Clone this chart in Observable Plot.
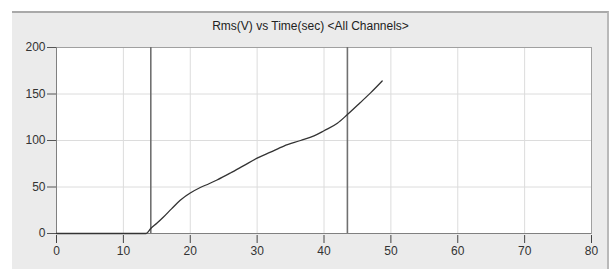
<!DOCTYPE html>
<html>
<head>
<meta charset="utf-8">
<script src="https://cdn.jsdelivr.net/npm/d3@7"></script>
<script src="https://cdn.jsdelivr.net/npm/@observablehq/plot@0.6"></script>
<style>
  html, body { margin: 0; padding: 0; background: #ffffff; }
  #wrap { position: relative; width: 614px; height: 269px; overflow: hidden; }
  #panel { position: absolute; left: 12px; top: 11px; width: 597px; height: 258px;
           background: #ebebeb; border-top: 2px solid #a9a9a9; border-right: 2px solid #b9b9b9; box-sizing: border-box; }
  #title { position: absolute; left: 12px; width: 597px; top: 19px; text-align: center;
           font-family: "Liberation Sans", Arial, sans-serif; font-size: 12px; color: #222; }
  #chart { position: absolute; left: 0; top: 0; }
</style>
</head>
<body>
<div id="wrap">
  <div id="panel"></div>
  <div id="title">Rms(V) vs Time(sec) &lt;All Channels&gt;</div>
  <div id="chart"></div>
</div>
<script>
const titleText = "Rms(V) vs Time(sec) <All Channels>";
const timeSec = [0, 13.4, 14.1, 15.0, 16.0, 17.2, 18.5, 20.0, 21.5, 22.8, 24.0, 26.0, 28.0, 30.0, 32.0, 34.0, 36.5, 38.5, 40.0, 42.0, 43.5, 45.4, 47.0, 48.7];
const rmsV    = [0, 0,    5.4,  11.0, 17.7, 26.5, 35.8, 43.5, 49.5, 53.5, 57.5, 65.0, 73.0, 81.0, 87.5, 94.0, 100.0, 105.0, 110.5, 118.5, 127.9, 140.6, 151.5, 164.0];
const cursorTimes = [14.1, 43.5];
const xTicks = [0, 10, 20, 30, 40, 50, 60, 70, 80];
const yTicks = [0, 50, 100, 150, 200];

const data = timeSec.map((t, i) => ({t, v: rmsV[i]}));

const chart = Plot.plot({
  width: 614,
  height: 269,
  marginLeft: 56,
  marginRight: 23,
  marginTop: 47,
  marginBottom: 36,
  style: { background: "transparent", fontFamily: "'Liberation Sans', Arial, sans-serif", fontSize: "12px", color: "#333" },
  x: { domain: [0, 80], label: null },
  y: { domain: [0, 200], label: null },
  marks: [
    Plot.frame({ fill: "#ffffff", stroke: null }),
    Plot.gridX(xTicks, { stroke: "#dcdcdc", strokeOpacity: 1, strokeWidth: 1 }),
    Plot.gridY(yTicks, { stroke: "#dcdcdc", strokeOpacity: 1, strokeWidth: 1 }),
    Plot.frame({ stroke: "#a0a0a0", strokeWidth: 1 }),
    Plot.ruleX([0], { stroke: "#808080" }),
    Plot.ruleY([0], { stroke: "#808080" }),
    Plot.axisX(xTicks, { tickSize: 8, tickPadding: 3, dy: 2, stroke: "#444", fill: "#333", tickFormat: d => String(d) }),
    Plot.axisY(yTicks, { tickSize: 9, tickPadding: 2, stroke: "#555", fill: "#333", tickFormat: d => String(d) }),
    Plot.ruleX(cursorTimes, { stroke: "#707070", strokeWidth: 1.6 }),
    Plot.line(data, { x: "t", y: "v", stroke: "#333333", strokeWidth: 1.3, curve: "monotone-x" })
  ]
});
document.getElementById("chart").appendChild(chart);
</script>
</body>
</html>
